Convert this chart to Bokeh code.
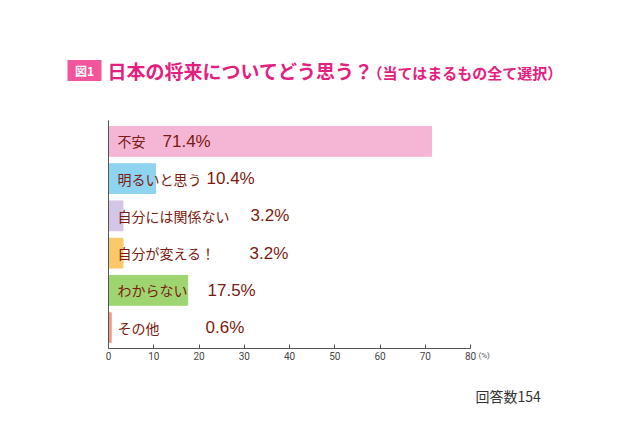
from bokeh.plotting import figure
from bokeh.models import ColumnDataSource, Label, Range1d, FixedTicker, LinearAxis
from bokeh.core.properties import value
from bokeh.embed import file_html
from bokeh.resources import INLINE

categories = ["不安", "明るいと思う", "自分には関係ない", "自分が変える！", "わからない", "その他"]
values = [71.4, 10.4, 3.2, 3.2, 17.5, 0.6]
pct_labels = ["71.4%", "10.4%", "3.2%", "3.2%", "17.5%", "0.6%"]
colors = ["#f5b5d5", "#8ed3ef", "#d3c6e6", "#fbc86a", "#9fd570", "#f29a8a"]
ticks = [0, 10, 20, 30, 40, 50, 60, 70, 80]

FONT = "Noto Sans CJK JP"
W, H = 640, 426

# pixel geometry of the plotting area (layout only)
X0_PX, XSCALE = 108.0, 4.525      # pixel of x=0, pixels per percent
Y_TOP_PX, ROW_PX = 120.0, 37.25   # top of bar area, pixels per row
Y_TOP = 0.44

def px_x(px):
    return (px - X0_PX) / XSCALE

def px_y(py):
    return Y_TOP + (py - Y_TOP_PX) / ROW_PX

ypos = list(range(1, len(categories) + 1))
cat_x = [px_x(117)] * len(categories)
pct_x = [px_x(p) for p in (162, 206, 250, 249, 207, 205)]

src = ColumnDataSource(dict(y=ypos, v=values, cat=categories, pct=pct_labels,
                            c=colors, cx=cat_x, px=pct_x))

p = figure(width=W, height=H, output_backend="svg", toolbar_location=None,
           x_range=Range1d(px_x(0), px_x(W)), y_range=Range1d(px_y(H), px_y(0)),
           x_axis_location=None, y_axis_location=None,
           min_border=0, min_border_left=0, min_border_right=0,
           min_border_top=0, min_border_bottom=0)
p.hbar(y="y", left=0, right="v", height=0.8, color="c", source=src)
p.text(x="cx", y="y", text="cat", source=src, text_font=value(FONT),
       text_font_size="14px", text_color="#7a1a10", text_baseline="middle",
       text_align="left")
p.text(x="px", y="y", text="pct", source=src, text_font=value("Liberation Sans"),
       text_font_size="17px", text_color="#7a1a10", text_baseline="middle",
       text_align="left")

p.xgrid.visible = False
p.ygrid.visible = False
p.outline_line_color = None
p.background_fill_color = "white"
p.border_fill_color = "white"

y_bottom = px_y(348)
xaxis = LinearAxis(ticker=FixedTicker(ticks=ticks), fixed_location=y_bottom,
                   bounds=(0, 80))
xaxis.axis_line_color = "#555555"
xaxis.major_tick_out = 0
xaxis.major_tick_in = 4
xaxis.major_tick_line_color = "#555555"
xaxis.minor_tick_line_color = None
xaxis.major_label_text_font_size = "10px"
xaxis.major_label_text_color = "#444444"
xaxis.major_label_text_font = "Roboto"
xaxis.major_label_standoff = 3
p.add_layout(xaxis, "below")

yaxis = LinearAxis(ticker=FixedTicker(ticks=[]), fixed_location=0,
                   bounds=(Y_TOP, y_bottom))
yaxis.axis_line_color = "#555555"
yaxis.major_tick_line_color = None
yaxis.minor_tick_line_color = None
yaxis.major_label_text_font_size = "0px"
p.add_layout(yaxis, "left")

# (%) unit label
p.add_layout(Label(x=px_x(478), y=px_y(355), text="(%)", text_baseline="middle",
                   text_font_size="8px", text_color="#555555", text_font="Roboto"))

# title badge and title
p.add_layout(Label(x=px_x(84), y=px_y(70), text="\u00a0\u00a0図1\u00a0\u00a0",
                   text_align="center", text_baseline="middle",
                   text_font_size="12px", text_color="white", text_font=FONT,
                   text_font_style="bold",
                   background_fill_color="#f3559c", border_line_color=None,
                   padding=2))
p.add_layout(Label(x=px_x(107), y=px_y(70), text="日本の将来についてどう思う？",
                   text_baseline="middle",
                   text_font_size="19px", text_color="#e4207f", text_font=FONT,
                   text_font_style="bold"))
p.add_layout(Label(x=px_x(367), y=px_y(72), text="（当てはまるもの全て選択）",
                   text_baseline="middle",
                   text_font_size="15px", text_color="#e4207f", text_font=FONT,
                   text_font_style="bold"))
p.add_layout(Label(x=px_x(475), y=px_y(395), text="回答数154",
                   text_baseline="middle",
                   text_font_size="14px", text_color="#333333", text_font=FONT))

open("out.html", "w").write(file_html(p, INLINE))
